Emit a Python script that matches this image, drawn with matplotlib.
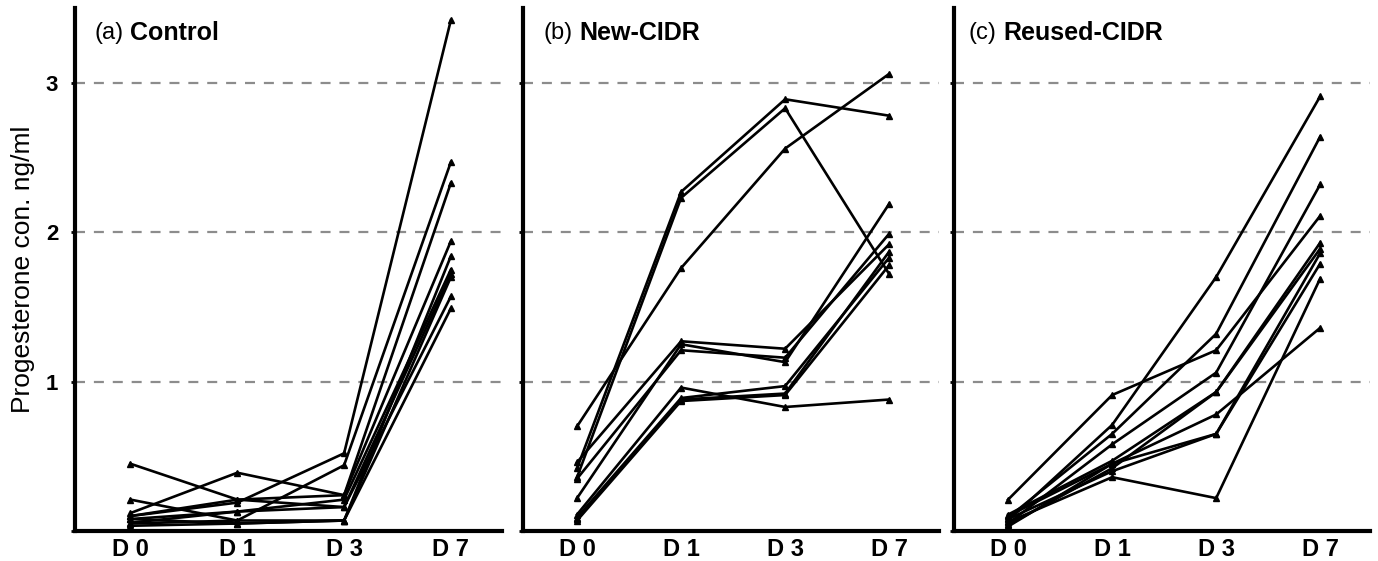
import matplotlib
matplotlib.use("Agg")
import matplotlib.pyplot as plt

plt.rcParams['font.family'] = ['Liberation Sans', 'DejaVu Sans']

days = ["D 0", "D 1", "D 3", "D 7"]

# progesterone (ng/ml) per animal
control = [
    [0.10, 0.19, 0.52, 3.42],
    [0.05, 0.07, 0.44, 2.47],
    [0.45, 0.21, 0.24, 2.33],
    [0.12, 0.39, 0.24, 1.94],
    [0.21, 0.07, 0.07, 1.84],
    [0.08, 0.13, 0.21, 1.75],
    [0.055, 0.13, 0.16, 1.72],
    [0.035, 0.05, 0.07, 1.70],
    [0.10, 0.21, 0.16, 1.57],
    [0.08, 0.05, 0.07, 1.49],
]

new_cidr = [
    [0.42, 2.27, 2.89, 2.78],
    [0.36, 2.23, 2.83, 1.72],
    [0.70, 1.76, 2.56, 3.06],
    [0.46, 1.27, 1.22, 1.92],
    [0.22, 1.25, 1.13, 2.19],
    [0.35, 1.21, 1.16, 1.99],
    [0.11, 0.96, 0.83, 0.88],
    [0.09, 0.89, 0.97, 1.83],
    [0.07, 0.87, 0.91, 1.78],
    [0.08, 0.88, 0.92, 1.87],
]

reused_cidr = [
    [0.21, 0.91, 1.21, 2.11],
    [0.07, 0.71, 1.70, 2.91],
    [0.09, 0.65, 1.32, 2.64],
    [0.05, 0.58, 1.06, 2.32],
    [0.11, 0.47, 0.93, 1.93],
    [0.03, 0.45, 0.78, 1.36],
    [0.08, 0.40, 0.65, 1.79],
    [0.06, 0.36, 0.22, 1.69],
    [0.10, 0.45, 0.65, 1.86],
    [0.04, 0.42, 0.93, 1.89],
]

panels = [("(a)", "Control", control),
          ("(b)", "New-CIDR", new_cidr),
          ("(c)", "Reused-CIDR", reused_cidr)]

fig = plt.figure(figsize=(13.78, 5.61), dpi=100)

# [left, bottom, width, height] in figure fraction
boxes = [[0.0544, 0.0535, 0.310, 0.932],
         [0.3795, 0.0535, 0.302, 0.932],
         [0.6923, 0.0535, 0.302, 0.932]]
title_x = [0.045, 0.05, 0.036]

for i, (tag, name, rows) in enumerate(panels):
    ax = fig.add_axes(boxes[i])
    x = range(len(days))
    for row in rows:
        ax.plot(x, row, color="black", lw=1.9, marker="^", markersize=4.5)

    ax.set_xlim(-0.52, 3.48)
    ax.set_ylim(0, 3.5)
    ax.set_xticks(list(x))
    ax.set_xticklabels(days, fontsize=17, fontweight="bold")
    ax.tick_params(axis="x", length=0, pad=5)
    ax.set_yticks([0, 1, 2, 3])
    if i == 0:
        ax.set_yticklabels(["", "1", "2", "3"], fontsize=16, fontweight="bold")
        ax.set_ylabel("Progesterone con. ng/ml", fontsize=19, labelpad=8)
    else:
        ax.set_yticklabels([])
    ax.tick_params(axis="y", length=3, width=2, pad=9)

    for v in [1, 2, 3]:
        ax.axhline(v, color="#8c8c8c", lw=1.6, ls=(0, (4.5, 4)), zorder=0)

    ax.spines["top"].set_visible(False)
    ax.spines["right"].set_visible(False)
    ax.spines["left"].set_linewidth(3)
    ax.spines["bottom"].set_linewidth(3)

    t = ax.text(title_x[i], 0.953, tag, transform=ax.transAxes,
                fontsize=17, va="center", ha="left")
    ax.annotate(name, xy=(1, 0.5), xycoords=t, xytext=(5, 0),
                textcoords="offset points", fontsize=18, fontweight="bold",
                va="center", ha="left")

fig.savefig("out.png", dpi=100)
